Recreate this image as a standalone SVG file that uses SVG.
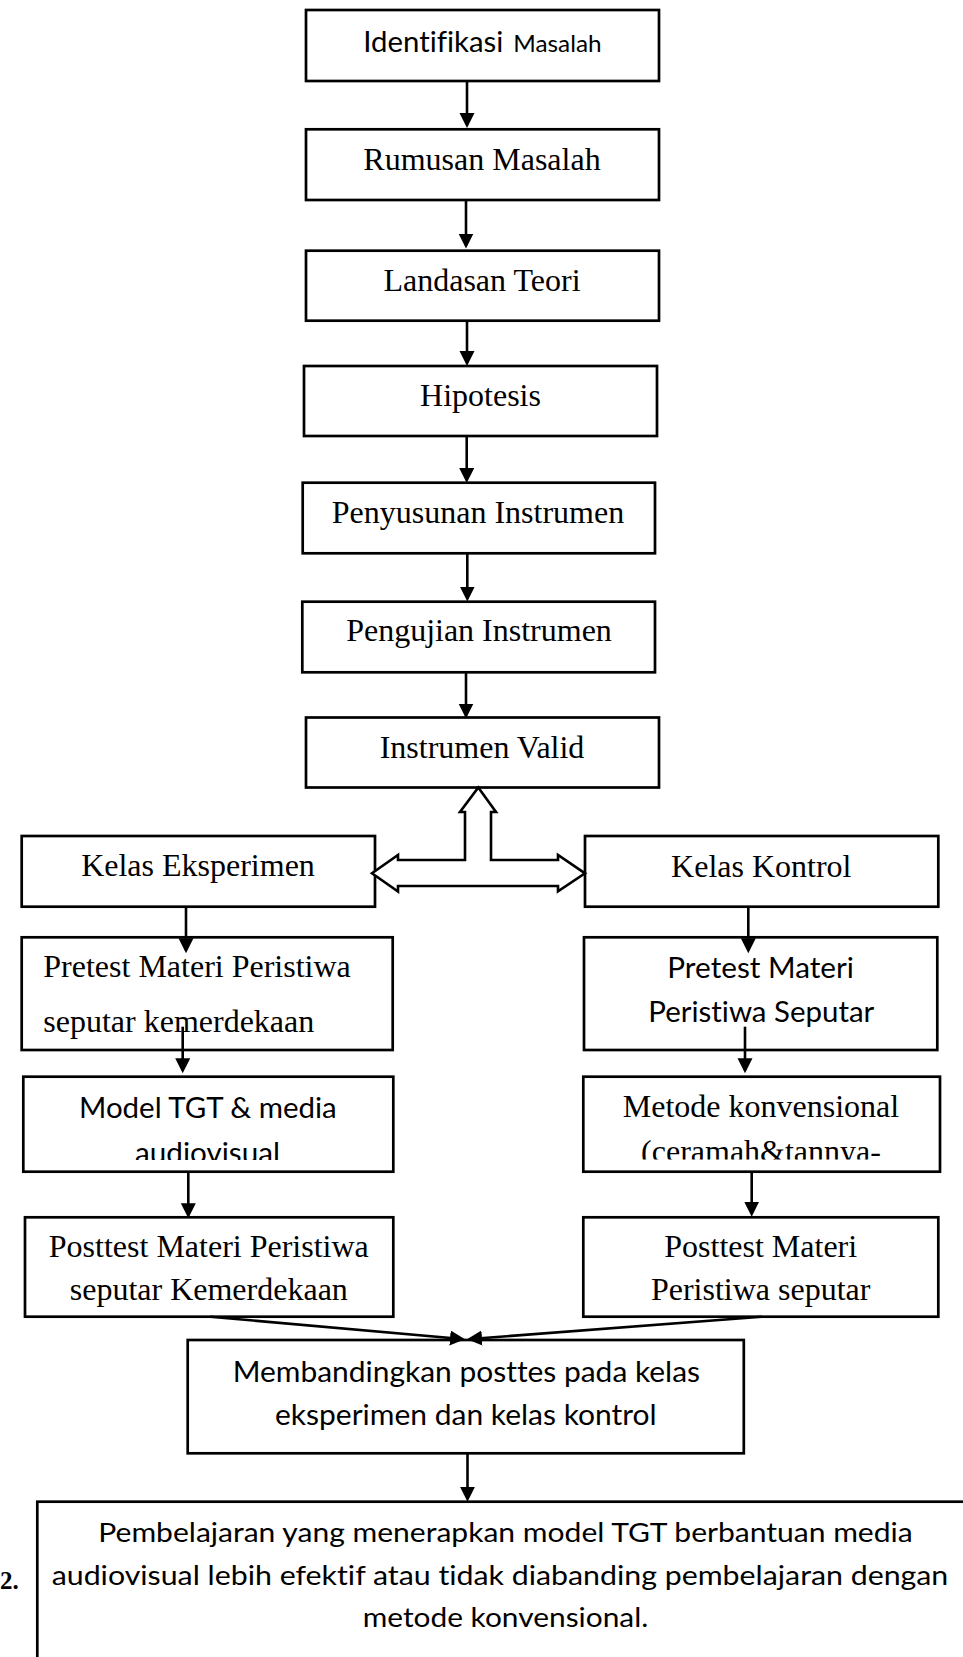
<svg xmlns="http://www.w3.org/2000/svg" width="963" height="1657" viewBox="0 0 963 1657">
<style>
text{font-variant-ligatures:none;font-feature-settings:"liga" 0,"clig" 0}
.box{fill:#fff;stroke:#000;stroke-width:2.7}
.s{font-family:"Liberation Serif","Times New Roman",serif;font-size:32px;fill:#000}
.c{font-family:Lato,"Liberation Sans",sans-serif;font-size:28.5px;fill:#000}
.cs{font-family:Lato,"Liberation Sans",sans-serif;font-size:27.5px;fill:#000}
.m{text-anchor:middle}
.ln{fill:none;stroke:#000;stroke-width:2.6;marker-end:url(#ah)}
.hollow{fill:#fff;stroke:#000;stroke-width:2.6;stroke-linejoin:miter}
</style>
<defs>
<marker id="ah" markerUnits="userSpaceOnUse" markerWidth="16" markerHeight="16" refX="12" refY="7.5" orient="auto">
<path d="M0,0 L15,7.5 L0,15 z" fill="#000"/>
</marker>
<clipPath id="clipL"><rect x="23" y="1076" width="371" height="84"/></clipPath>
<clipPath id="clipR"><rect x="583" y="1076" width="357" height="83.5"/></clipPath>
</defs>
<rect width="963" height="1657" fill="#fff"/>

<g id="n1"><rect class="box" x="306" y="10" width="353" height="71"/>
<text class="c" y="51.7"><tspan x="363.3" textLength="140" lengthAdjust="spacingAndGlyphs">Identifikasi</tspan><tspan x="513.3" style="font-size:23px" textLength="88.3" lengthAdjust="spacingAndGlyphs">Masalah</tspan></text></g>
<g id="n2"><rect class="box" x="306" y="129.3" width="353" height="70.7"/><text class="s m" x="482" y="170">Rumusan Masalah</text></g>
<g id="n3"><rect class="box" x="306" y="250.7" width="353" height="70"/><text class="s m" x="482" y="290.7">Landasan Teori</text></g>
<g id="n4"><rect class="box" x="304" y="366" width="353" height="70"/><text class="s m" x="480.5" y="405.7">Hipotesis</text></g>
<g id="n5"><rect class="box" x="302.7" y="482.7" width="352.3" height="70.6"/><text class="s m" x="478" y="523.3">Penyusunan Instrumen</text></g>
<g id="n6"><rect class="box" x="302.3" y="601.7" width="352.7" height="70.6"/><text class="s m" x="479" y="641">Pengujian Instrumen</text></g>
<g id="n7"><rect class="box" x="306" y="717.5" width="353" height="70"/><text class="s m" x="482" y="757.7">Instrumen Valid</text></g>

<g id="n8"><rect class="box" x="21.7" y="836" width="353.3" height="70.7"/><text class="s m" x="198" y="876">Kelas Eksperimen</text></g>
<g id="n9"><rect class="box" x="585" y="836" width="353.3" height="70.7"/><text class="s m" x="761.3" y="876.5">Kelas Kontrol</text></g>

<g id="n10"><rect class="box" x="21.7" y="937.3" width="371" height="112.7"/>
<text class="s" x="43.3" y="976.7">Pretest Materi Peristiwa</text>
<text class="s" x="43.3" y="1031.7">seputar kemerdekaan</text></g>
<g id="n11"><rect class="box" x="584" y="937.3" width="353.3" height="112.7"/>
<text class="c" x="667.3" y="977.5" textLength="186.7" lengthAdjust="spacingAndGlyphs">Pretest Materi</text>
<text class="c" x="648.3" y="1021.5" textLength="226" lengthAdjust="spacingAndGlyphs">Peristiwa Seputar</text></g>

<g id="n12"><rect class="box" x="23.3" y="1076.7" width="370" height="95"/>
<g clip-path="url(#clipL)">
<text class="c" x="79" y="1118.3" textLength="257.7" lengthAdjust="spacingAndGlyphs">Model TGT &amp; media</text>
<text class="c" x="135" y="1163" textLength="145" lengthAdjust="spacingAndGlyphs">audiovisual</text></g></g>
<g id="n13"><rect class="box" x="583.3" y="1076.7" width="356.7" height="95"/>
<g clip-path="url(#clipR)">
<text class="s m" x="761" y="1116.7">Metode konvensional</text>
<text class="s m" x="761" y="1161.5">(ceramah&amp;tannya-</text></g></g>

<g id="n14"><rect class="box" x="25" y="1217.3" width="368.3" height="99.4"/>
<text class="s m" x="208.8" y="1257">Posttest Materi Peristiwa</text>
<text class="s m" x="208.8" y="1300">seputar Kemerdekaan</text></g>
<g id="n15"><rect class="box" x="583.3" y="1217.3" width="355" height="99.4"/>
<text class="s m" x="760.7" y="1257">Posttest Materi</text>
<text class="s m" x="760.7" y="1300">Peristiwa seputar</text></g>

<g id="n16"><rect class="box" x="187.7" y="1340" width="556.1" height="113.3"/>
<text class="c" x="232.7" y="1381.7" textLength="467.3" lengthAdjust="spacingAndGlyphs">Membandingkan posttes pada kelas</text>
<text class="c" x="275" y="1425" textLength="381.7" lengthAdjust="spacingAndGlyphs">eksperimen dan kelas kontrol</text></g>

<g id="n17">
<text x="0" y="1589" style="font-family:'Liberation Serif','Times New Roman',serif;font-size:25px;font-weight:bold">2.</text>
<rect class="box" x="37.3" y="1501.7" width="960" height="200"/>
<text class="cs" x="98.3" y="1541.7" textLength="814.4" lengthAdjust="spacingAndGlyphs">Pembelajaran yang menerapkan model TGT berbantuan media</text>
<text class="cs" x="51.7" y="1585" textLength="896.6" lengthAdjust="spacingAndGlyphs">audiovisual lebih efektif atau tidak diabanding pembelajaran dengan</text>
<text class="cs" x="362.7" y="1626.7" textLength="285.6" lengthAdjust="spacingAndGlyphs">metode konvensional.</text></g>

<g id="connectors">
<line class="ln" x1="467" y1="81" x2="467" y2="125"/>
<line class="ln" x1="466" y1="200" x2="466" y2="245.5"/>
<line class="ln" x1="467" y1="320.7" x2="467" y2="363"/>
<line class="ln" x1="466.7" y1="436" x2="466.7" y2="480"/>
<line class="ln" x1="467.3" y1="553.3" x2="467.3" y2="598.5"/>
<line class="ln" x1="466" y1="672.3" x2="466" y2="715.5"/>
<polygon class="hollow" points="478.3,787.5 496,812 491,812 491,860 558,860 558,855 585,873.3 558,891.3 558,886 398,886 398,891.5 372,873.3 398,855 398,860 465,860 465,812 460,812"/>
<line class="ln" x1="186" y1="906.7" x2="186" y2="950.3"/>
<line class="ln" x1="748.3" y1="906.7" x2="748.3" y2="950.3"/>
<line class="ln" x1="182.7" y1="1026.7" x2="182.7" y2="1070.3"/>
<line class="ln" x1="745" y1="1026.7" x2="745" y2="1070.3"/>
<line class="ln" x1="188.3" y1="1171.7" x2="188.3" y2="1215.3"/>
<line class="ln" x1="751.7" y1="1171.7" x2="751.7" y2="1213.7"/>
<line class="ln" x1="210" y1="1316.7" x2="462" y2="1339"/>
<line class="ln" x1="761.6" y1="1316.7" x2="470" y2="1339"/>
<line class="ln" x1="467.5" y1="1453.3" x2="467.5" y2="1498.7"/>
</g>
</svg>
